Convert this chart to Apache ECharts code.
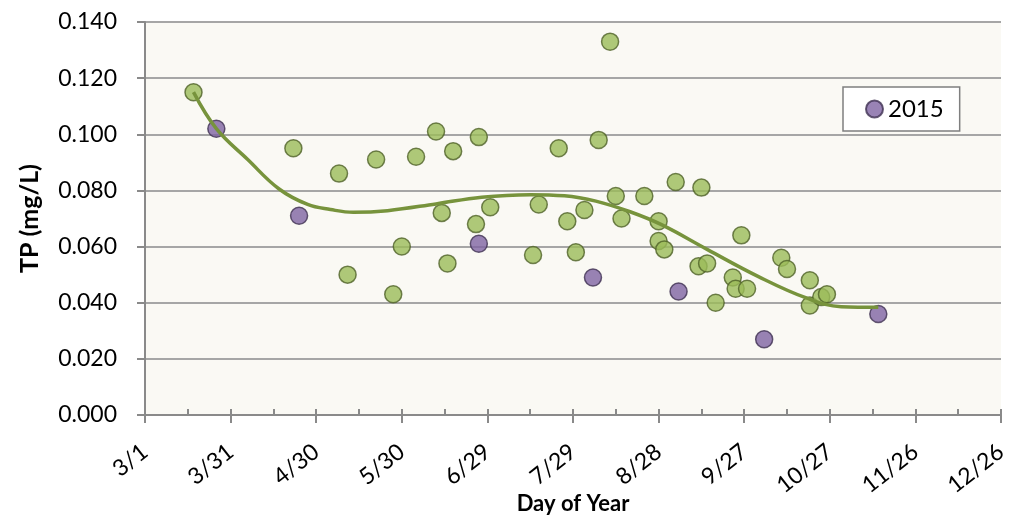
<!DOCTYPE html>
<html>
<head>
<meta charset="utf-8">
<script src="https://cdn.jsdelivr.net/npm/echarts@6/dist/echarts.min.js"></script>
<style>
  html, body { margin: 0; padding: 0; background: #ffffff; }
  #chart { width: 1015px; height: 516px; }
</style>
</head>
<body>
<div id="chart"></div>
<script>
// Day-of-year axis ticks (non-leap year), every 30 days from 3/1
const tickDays = [60, 90, 120, 150, 180, 210, 240, 270, 300, 330, 360];
const tickLabels = ['3/1', '3/31', '4/30', '5/30', '6/29', '7/29', '8/28', '9/27', '10/27', '11/26', '12/26'];

// Total phosphorus samples, other years (day of year, mg/L)
const otherDays = [77, 112, 128, 141, 155, 162, 168, 177, 164, 176, 150, 131, 166, 147, 181,
  223, 205, 219, 198, 196, 208, 214, 211, 225, 227, 235, 246, 255, 240, 240, 242,
  269, 254, 257, 260, 266, 267, 271, 283, 285, 293, 293, 297, 299];
const otherTP = [0.115, 0.095, 0.086, 0.091, 0.092, 0.101, 0.094, 0.099, 0.072, 0.068, 0.060, 0.050, 0.054, 0.043, 0.074,
  0.133, 0.095, 0.098, 0.075, 0.057, 0.069, 0.073, 0.058, 0.078, 0.070, 0.078, 0.083, 0.081, 0.069, 0.062, 0.059,
  0.064, 0.053, 0.054, 0.040, 0.049, 0.045, 0.045, 0.056, 0.052, 0.048, 0.039, 0.042, 0.043];

// 2015 samples
const days2015 = [85, 114, 177, 217, 247, 277, 317];
const tp2015 = [0.102, 0.071, 0.061, 0.049, 0.044, 0.027, 0.036];

// Seasonal trend line
const trendDays = [77, 85, 96, 107, 117, 125, 133, 145, 162, 178, 195, 207, 218, 230, 241, 257, 275, 292, 304, 317];
const trendTP = [0.115, 0.102, 0.091, 0.0805, 0.075, 0.0732, 0.0722, 0.0728, 0.0752, 0.0776, 0.0785, 0.0781,
  0.0762, 0.0724, 0.0678, 0.059, 0.0493, 0.0416, 0.0386, 0.0384];

const zip = (xs, ys) => xs.map((x, i) => [x, ys[i]]);
const FONT = 'Lato';
const AXIS_GREY = '#8A8A8A';
const NO_LINE = { show: false, lineStyle: { color: 'rgba(0,0,0,0)', width: 0 } };

const chart = echarts.init(document.getElementById('chart'), null, { renderer: 'canvas' });

chart.setOption({
  animation: false,
  textStyle: { fontFamily: FONT, color: '#000' },
  grid: {
    left: 145, right: 14, top: 22, bottom: 101,
    containLabel: false,
    outerBoundsMode: 'none',
    show: true, backgroundColor: '#FAF9F4', borderWidth: 0
  },
  legend: {
    data: ['2015'],
    left: 843, top: 87,
    padding: [10, 16, 10, 22],
    backgroundColor: '#ffffff',
    borderColor: '#7F7F7F', borderWidth: 1.5, borderRadius: 0,
    itemWidth: 17, itemHeight: 17,
    icon: 'circle',
    textStyle: { fontFamily: FONT, fontSize: 24, color: '#000' }
  },
  xAxis: [{
    // main axis: labels and outer major ticks
    type: 'value',
    min: 60, max: 360, interval: 30,
    name: 'Day of Year',
    nameLocation: 'middle', nameGap: 78,
    nameMoveOverlap: false,
    nameTextStyle: { fontFamily: FONT, fontSize: 22, fontWeight: 'bold', color: '#000' },
    axisLine: { show: true, onZero: false, lineStyle: { color: AXIS_GREY, width: 2 } },
    axisTick: { show: true, inside: false, length: 8, lineStyle: { color: AXIS_GREY, width: 2 } },
    splitLine: NO_LINE,
    minorSplitLine: NO_LINE,
    axisLabel: {
      rotate: 38, margin: 34,
      fontFamily: FONT, fontSize: 23, color: '#000',
      formatter: v => tickLabels[tickDays.indexOf(v)] || ''
    }
  }, {
    // inner tick marks every half month
    type: 'value',
    min: 60, max: 360, interval: 15,
    position: 'bottom',
    axisLine: { show: false },
    axisLabel: { show: false },
    splitLine: NO_LINE,
    minorSplitLine: NO_LINE,
    axisTick: { show: true, inside: true, length: 6, lineStyle: { color: AXIS_GREY, width: 2 } }
  }],
  yAxis: {
    type: 'value',
    min: 0, max: 0.14, interval: 0.02,
    name: 'TP (mg/L)',
    nameLocation: 'middle', nameGap: 103,
    nameMoveOverlap: false,
    nameTextStyle: { fontFamily: FONT, fontSize: 25, fontWeight: 'bold', color: '#000' },
    axisLine: { show: true, lineStyle: { color: AXIS_GREY, width: 2 } },
    axisTick: { show: true, inside: false, length: 8, lineStyle: { color: AXIS_GREY, width: 2 } },
    splitLine: { show: true, lineStyle: { color: '#A6A6A6', width: 2 } },
    axisLabel: {
      margin: 28,
      fontFamily: FONT, fontSize: 23, color: '#000',
      formatter: v => v.toFixed(3)
    }
  },
  series: [{
    name: 'Other years',
    type: 'scatter',
    xAxisIndex: 0,
    data: zip(otherDays, otherTP),
    symbol: 'circle', symbolSize: 17,
    itemStyle: { color: '#9BBB59', borderColor: '#4F6228', borderWidth: 1.5 },
    z: 2
  }, {
    name: 'trend',
    type: 'line',
    xAxisIndex: 0,
    data: zip(trendDays, trendTP),
    smooth: 0.4,
    showSymbol: false,
    lineStyle: { color: '#77933C', width: 3.5 },
    z: 4
  }, {
    name: '2015',
    type: 'scatter',
    xAxisIndex: 0,
    data: zip(days2015, tp2015),
    symbol: 'circle', symbolSize: 17,
    itemStyle: { color: '#8064A2', borderColor: '#3F3151', borderWidth: 1.5 },
    z: 3
  }]
});
</script>
</body>
</html>
